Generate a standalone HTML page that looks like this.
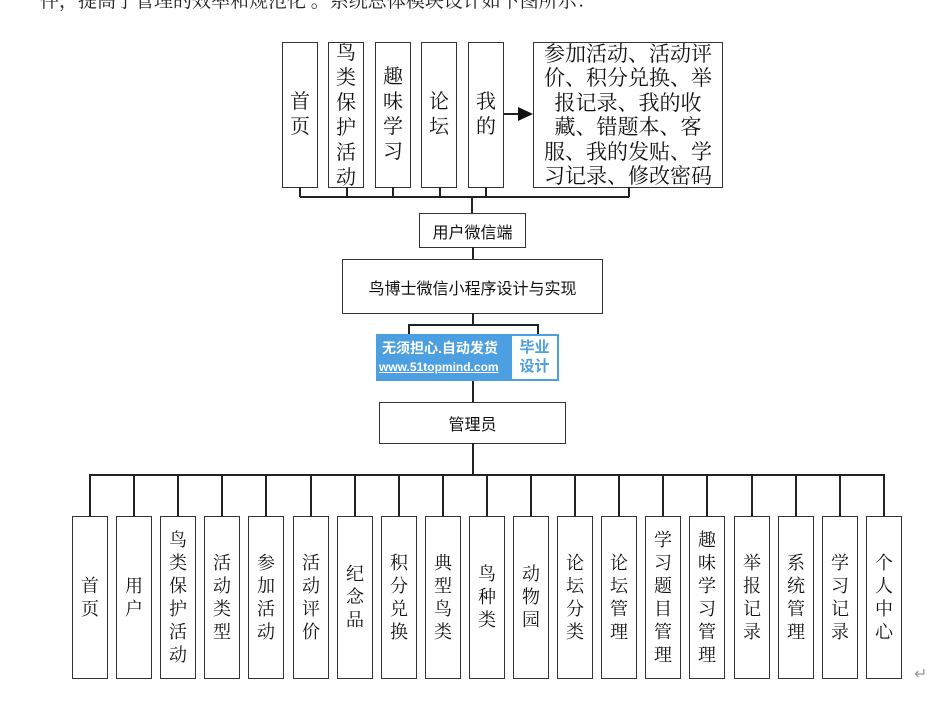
<!DOCTYPE html>
<html><head><meta charset="utf-8"><style>
body{margin:0;width:936px;height:715px;background:#fff;position:relative;overflow:hidden;font-family:"Liberation Serif","Noto Serif CJK SC",serif;color:#111}
.b{position:absolute;border:1.5px solid #333;box-sizing:border-box;background:#fff;display:flex;align-items:center;justify-content:center;text-align:center}
.v{font-size:18px;line-height:23px}
.t{font-size:20px;line-height:25px}
.l{position:absolute;background:#222}
.s{font-family:"Liberation Sans","Noto Sans CJK SC",sans-serif;font-size:16px}
</style></head><body>
<div style="position:absolute;left:40px;top:-14px;font-size:19px;color:#222;white-space:nowrap">件，提高了管理的效率和规范化 。系统总体模块设计如下图所示：</div>

<div class="b t" style="left:282px;top:42px;width:36px;height:146px">首<br>页</div>
<div class="b t" style="left:328px;top:42px;width:36px;height:146px;overflow:hidden;align-items:flex-end"><div style="margin-bottom:-4px">鸟<br>类<br>保<br>护<br>活<br>动</div></div>
<div class="b t" style="left:375px;top:42px;width:36px;height:146px">趣<br>味<br>学<br>习</div>
<div class="b t" style="left:421px;top:42px;width:36px;height:146px">论<br>坛</div>
<div class="b t" style="left:468px;top:42px;width:36px;height:146px">我<br>的</div>
<div class="b" style="left:533px;top:42px;width:190px;height:146px;font-size:21px;line-height:24.5px;overflow:hidden">参加活动、活动评<br>价、积分兑换、举<br>报记录、我的收<br>藏、错题本、客<br>服、我的发贴、学<br>习记录、修改密码</div>
<div class="l" style="left:504px;top:113px;width:20px;height:1.5px"></div>
<svg style="position:absolute;left:518px;top:107px" width="16" height="14"><polygon points="0,0 15,7 0,14" fill="#111"/></svg>

<div class="l" style="left:300px;top:196px;width:329px;height:1.5px"></div>
<div class="l" style="left:299px;top:187px;width:1.5px;height:10px"></div>
<div class="l" style="left:346px;top:187px;width:1.5px;height:10px"></div>
<div class="l" style="left:392px;top:187px;width:1.5px;height:10px"></div>
<div class="l" style="left:439px;top:187px;width:1.5px;height:10px"></div>
<div class="l" style="left:485px;top:187px;width:1.5px;height:10px"></div>
<div class="l" style="left:628px;top:187px;width:1.5px;height:10px"></div>
<div class="l" style="left:471px;top:196px;width:2px;height:18px"></div>
<div class="b s" style="left:419px;top:213px;width:107px;height:35px">用户微信端</div>
<div class="l" style="left:472px;top:247px;width:1.5px;height:13px"></div>
<div class="b s" style="left:342px;top:259px;width:261px;height:55px">鸟博士微信小程序设计与实现</div>
<div class="l" style="left:472px;top:313px;width:1.5px;height:12px"></div>
<div class="l" style="left:408px;top:324px;width:130px;height:1.5px"></div>
<div class="l" style="left:408px;top:324px;width:1.5px;height:10px"></div>
<div class="l" style="left:537px;top:324px;width:1.5px;height:10px"></div>
<div style="position:absolute;left:376px;top:334px;width:183px;height:47px;background:#4c9fe0;font-family:'Liberation Sans','Noto Sans CJK SC',sans-serif;color:#fff">
<div style="position:absolute;left:6px;top:4px;font-size:14px;font-weight:bold">无须担心.自动发货</div>
<div style="position:absolute;left:3px;top:26px;font-size:12px;font-weight:bold;text-decoration:underline">www.51topmind.com</div>
<div style="position:absolute;left:136px;top:2px;width:45px;height:43px;background:#fff;color:#4c9fe0;font-size:15px;font-weight:bold;line-height:19px;text-align:center;padding-top:2px;box-sizing:border-box">毕业<br>设计</div>
</div>
<div class="l" style="left:472px;top:381px;width:1.5px;height:22px"></div>
<div class="b s" style="left:379px;top:402px;width:187px;height:42px">管理员</div>
<div class="l" style="left:472px;top:443px;width:1.5px;height:32px"></div>
<div class="l" style="left:90px;top:474px;width:793px;height:1.5px"></div>
<div id="bot"></div>
<script>
var n=["首页","用户","鸟类保护活动","活动类型","参加活动","活动评价","纪念品","积分兑换","典型鸟类","鸟种类","动物园","论坛分类","论坛管理","学习题目管理","趣味学习管理","举报记录","系统管理","学习记录","个人中心"];
var h="";
for(var i=0;i<19;i++){var x=Math.round(72+i*44.1);h+='<div class="l" style="left:'+(x+17)+'px;top:474px;width:1.5px;height:43px"></div><div class="b v" style="left:'+x+'px;top:516px;width:36px;height:163px">'+n[i].split("").join("<br>")+'</div>';}
document.getElementById("bot").innerHTML=h;
</script>
<div style="position:absolute;left:914px;top:664px;color:#999;font-size:16px">↵</div>
</body></html>
